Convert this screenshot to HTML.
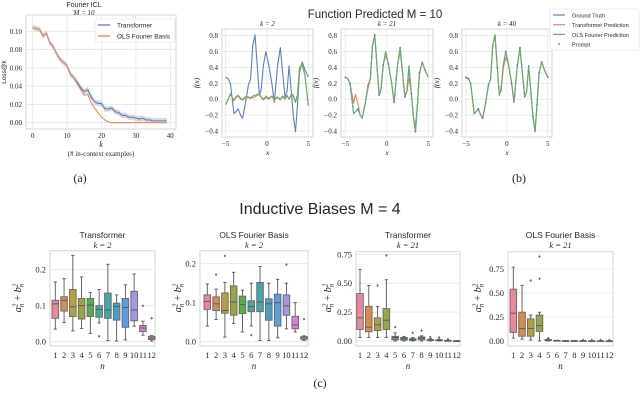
<!DOCTYPE html>
<html><head><meta charset="utf-8"><style>
html,body{margin:0;padding:0;background:#fff;}
svg{display:block;font-family:"Liberation Serif",serif;}
.s{font-family:"Liberation Sans",sans-serif;}
</style></head><body>
<svg id="fig" width="640" height="402" viewBox="0 0 640 402" xmlns="http://www.w3.org/2000/svg"></svg>
<script>
// ---------- DATA ----------
const lossK = [0,1,2,3,4,5,6,7,8,9,10,11,12,13,14,15,16,17,18,19,20,21,22,23,24,25,26,27,28,29,30,31,32,33,34,35,36,37,38,39];
const lossTransformer = [0.104,0.103,0.102,0.095,0.098,0.087,0.083,0.075,0.069,0.066,0.062,0.053,0.049,0.044,0.038,0.034,0.036,0.028,0.023,0.021,0.021,0.015,0.015,0.016,0.012,0.011,0.008,0.008,0.006,0.006,0.005,0.004,0.005,0.003,0.003,0.002,0.002,0.002,0.002,0.002];
const lossOLS = [0.104,0.103,0.102,0.095,0.098,0.087,0.083,0.075,0.069,0.066,0.062,0.053,0.049,0.042,0.036,0.030,0.031,0.022,0.016,0.011,0.006,0.003,0.001,0,0,0,0,0,0,0,0,0,0,0,0,0,0,0,0,0];
const lossXTicks = [0,10,20,30,40];
const lossYTicks = [0,0.02,0.04,0.06,0.08,0.10];

const fnX = [-5,-4.71,-4.43,-4.0,-3.78,-3.49,-3.2,-2.96,-2.6,-2.27,-1.98,-1.73,-1.45,-1.16,-0.92,-0.71,-0.43,-0.14,0.18,0.59,0.88,1.29,1.61,1.9,2.18,2.43,2.67,2.96,3.2,3.45,3.69,3.94,4.27,4.59,5.0];
const truthY = [0.275,0.26,0.2,-0.18,-0.16,-0.12,-0.2,-0.24,-0.05,0.17,0.26,0.67,0.81,0.39,0.05,0.12,0.43,0.6,0.45,0.2,-0.04,0.43,0.65,0.33,0.03,0.1,0.42,0.07,-0.22,-0.41,-0.07,0.33,0.47,0.37,0.28];
const k2Transformer = [-0.07,0.0,0.06,-0.02,0.02,0.04,0.0,-0.01,0.02,0.02,0.01,0.02,0.03,0.05,0.06,0.02,-0.01,0.02,0.0,0.03,-0.01,0.02,-0.01,0.03,0.0,0.04,0.0,0.05,0.03,-0.03,0.06,0.38,0.43,0.3,-0.08];
const k2OLS = [-0.07,0.0,0.07,-0.01,0.03,0.05,0.01,0.0,0.03,0.03,0.02,0.04,0.05,0.06,0.07,0.03,0.0,0.04,0.01,0.04,0.0,0.03,0.0,0.04,0.01,0.05,0.0,0.07,0.05,-0.04,0.05,0.4,0.44,0.3,-0.08];
const k21Transformer = [0.275,0.26,0.2,-0.05,0.06,-0.05,-0.2,-0.24,-0.05,0.13,0.26,0.67,0.81,0.39,0.05,0.12,0.43,0.55,0.45,0.2,-0.04,0.43,0.6,0.33,0.03,0.1,0.27,0.07,-0.22,-0.33,-0.07,0.33,0.47,0.37,0.28];
const k21OLS = truthY.slice();
const k40Transformer = [0.275,0.26,0.2,-0.18,-0.16,-0.12,-0.2,-0.24,-0.05,0.17,0.26,0.67,0.81,0.39,0.05,0.12,0.4,0.52,0.45,0.2,-0.04,0.43,0.63,0.33,0.03,0.1,0.42,0.07,-0.22,-0.41,-0.07,0.33,0.47,0.37,0.28];
const k40OLS = truthY.slice();
const prompt21 = [0,2,5,9,12,14,16,18,20,22,24,27,29,31,33];
const prompt40 = [0,1,3,5,7,9,11,13,15,17,19,21,22,24,26,27,28,30,31,32,34];
const fnXTicks = [-5,0,5];
const fnYTicks = [-0.4,-0.2,0,0.2,0.4,0.6,0.8];

const boxN = [1,2,3,4,5,6,7,8,9,10,11,12];
const boxTk2 = [[0.035,0.065,0.105,0.115,0.166],[0.053,0.085,0.115,0.125,0.175],[0.03,0.07,0.097,0.145,0.24],[0.037,0.063,0.1,0.12,0.18],[0.023,0.07,0.102,0.12,0.137],[0.052,0.068,0.09,0.1,0.145],[0.003,0.065,0.088,0.135,0.215],[0.002,0.06,0.098,0.107,0.13],[0.005,0.04,0.095,0.12,0.158],[0.043,0.058,0.088,0.14,0.188],[0.018,0.028,0.038,0.045,0.057],[0.002,0.006,0.01,0.015,0.017]];
const outTk2 = [[],[],[],[],[],[0.015],[],[],[],[],[0.1],[0.065]];
const boxOk2 = [[0.04,0.083,0.103,0.12,0.148],[0.057,0.08,0.097,0.115,0.135],[0.012,0.073,0.08,0.125,0.152],[0.047,0.068,0.102,0.143,0.178],[0.025,0.072,0.095,0.117,0.132],[0.04,0.077,0.09,0.105,0.15],[0.003,0.077,0.102,0.152,0.193],[0.003,0.055,0.097,0.11,0.15],[0.01,0.04,0.1,0.122,0.16],[0.033,0.068,0.092,0.12,0.15],[0.025,0.033,0.043,0.065,0.1],[0.003,0.006,0.01,0.013,0.015]];
const outOk2 = [[],[0.172],[0.22],[],[],[0.017],[],[],[],[0.198],[],[0.058]];
const boxTk21 = [[0.03,0.1,0.2,0.41,0.62],[0.03,0.08,0.12,0.3,0.48],[0.03,0.09,0.14,0.2,0.3],[0.03,0.1,0.18,0.28,0.53],[0,0.01,0.03,0.04,0.07],[0,0.008,0.02,0.03,0.04],[0,0.005,0.015,0.02,0.03],[0,0.01,0.025,0.035,0.045],[0,0.004,0.008,0.012,0.02],[0,0.003,0.006,0.01,0.015],[0,0.001,0.003,0.005,0.008],[0,0.0005,0.001,0.002,0.003]];
const outTk21 = [[],[],[0.48],[0.74],[0.12],[],[0.07],[0.09],[0.035],[0.03],[0.015],[]];
const boxOk21 = [[0.03,0.09,0.29,0.54,0.77],[0.02,0.05,0.13,0.3,0.58],[0.01,0.05,0.13,0.23,0.27],[0,0.1,0.16,0.27,0.3],[0,0.005,0.01,0.015,0.02],[0,0.002,0.004,0.006,0.008],[0,0.001,0.002,0.003,0.005],[0,0.001,0.002,0.003,0.004],[0,0.001,0.002,0.003,0.004],[0,0.001,0.001,0.002,0.003],[0,0.001,0.001,0.002,0.003],[0,0.001,0.001,0.002,0.003]];
const outOk21 = [[],[],[0.63],[0.65,0.88],[0.03],[],[],[],[0.01],[0.01],[0.01],[0.01]];
const boxColors = ['#e8899a','#d98b4a','#b59f44','#9aa443','#5aab4f','#4aa890','#44a6a8','#4aa0bf','#5a9de0','#a695e0','#d67fe0','#e27fbf'];

// ---------- HELPERS ----------
const NS='http://www.w3.org/2000/svg';
const svg=document.getElementById('fig');
function el(tag, attrs, name, parent){
  const e=document.createElementNS(NS,tag);
  for(const k in attrs) e.setAttribute(k,attrs[k]);
  
  
  (parent||svg).appendChild(e); return e;
}
function txt(x,y,s,size,name,anchor,cls,extra){
  const a={x:x,y:y,'font-size':size,'text-anchor':anchor||'middle',fill:'#262626'};
  if(cls) a['class']=cls;
  if(extra) for(const k in extra) a[k]=extra[k];
  const t=el('text',a,name); t.textContent=s; return t;
}
function lin(d0,d1,r0,r1){return v=>r0+(v-d0)/(d1-d0)*(r1-r0);}
function frame(x0,y0,x1,y1,name){
  el('rect',{x:x0,y:y0,width:x1-x0,height:y1-y0,fill:'#fff',stroke:'#d6d6d6','stroke-width':1},name);
}
function poly(xs,ys,X,Y,color,w,name){
  let d='';
  for(let i=0;i<xs.length;i++) d+=(i?'L':'M')+X(xs[i]).toFixed(2)+','+Y(ys[i]).toFixed(2);
  el('path',{d:d,fill:'none',stroke:color,'stroke-width':w,'stroke-linejoin':'round'},name);
}
const BLUE='#5b7fc0', ORANGE='#e8895a', GREEN='#5fae6e';

// ---------- PANEL (a) ----------
(function(){
  const X=lin(0,10,32.7,67.1), Y=lin(0,0.10,122.7,31.3);
  frame(26,15,176,129,'loss-plot-area');
  lossYTicks.forEach(v=>{
    el('line',{x1:26,x2:176,y1:Y(v),y2:Y(v),stroke:'#e6e6e6','stroke-width':0.8},'loss-y-grid');
    txt(22,Y(v)+2.5,v.toFixed(2),7,'loss-y-tick','end');
  });
  lossXTicks.forEach(v=>{
    el('line',{x1:X(v),x2:X(v),y1:15,y2:129,stroke:'#e6e6e6','stroke-width':0.8},'loss-x-grid');
    txt(X(v),138,String(v),7,'loss-x-tick');
  });
  let d='';
  lossK.forEach((k,i)=>{d+=(i?'L':'M')+X(k)+','+Y(lossTransformer[i]+0.003);});
  for(let i=lossK.length-1;i>=0;i--) d+='L'+X(lossK[i])+','+Y(Math.max(lossTransformer[i]-0.003,0));
  el('path',{d:d+'Z',fill:'#c8c8c8',opacity:0.7},'transformer-confidence-band');
  poly(lossK,lossTransformer,X,Y,BLUE,1.1,'transformer-loss-line');
  poly(lossK,lossOLS,X,Y,ORANGE,1.1,'ols-loss-line');
  txt(84,7,'Fourier ICL',7,'loss-title','middle','s');
  txt(84,15,'M = 10',7,'loss-subtitle','middle',null,{'font-style':'italic'});
  txt(101,147,'k',8,'loss-x-label','middle',null,{'font-style':'italic'});
  txt(101,156,'(# in-context examples)',7,'loss-x-label-sub');
  txt(6,72,'Loss@k',6.5,'loss-y-label','middle','s',{transform:'rotate(-90 6 72)'});
  el('rect',{x:95,y:19,width:80,height:23,fill:'#fff',stroke:'#ddd','stroke-width':0.6,rx:2},'loss-legend');
  el('line',{x1:98,x2:110,y1:25,y2:25,stroke:BLUE,'stroke-width':1.3},'legend-transformer-swatch');
  txt(117,27.5,'Transformer',6.5,'legend-transformer','start','s');
  el('line',{x1:98,x2:110,y1:36,y2:36,stroke:ORANGE,'stroke-width':1.3},'legend-ols-swatch');
  txt(117,38.5,'OLS Fourier Basis',6.5,'legend-ols','start','s');
  txt(80,182,'(a)',12,'panel-a-label');
})();

// ---------- PANEL (b) ----------
const subs=[
  {fx0:222,fx1:313,x5:225.7,x_5:308.3,k:'2',tr:k2Transformer,ols:k2OLS,pr:[]},
  {fx0:341,fx1:433,x5:345.3,x_5:428.3,k:'21',tr:k21Transformer,ols:k21OLS,pr:prompt21},
  {fx0:462,fx1:552,x5:466,x_5:547.7,k:'40',tr:k40Transformer,ols:k40OLS,pr:prompt40}
];
subs.forEach((s,si)=>{
  const X=lin(-5,5,s.x5,s.x_5), Y=lin(-0.4,0.8,131,35.7);
  frame(s.fx0,29,s.fx1,137,'function-plot-area-k'+s.k);
  fnYTicks.forEach(v=>{
    el('line',{x1:s.fx0,x2:s.fx1,y1:Y(v),y2:Y(v),stroke:'#e6e6e6','stroke-width':0.8},'function-y-grid');
    txt(s.fx0-4,Y(v)+2.5,(v<0?'\u2212':'')+Math.abs(v).toFixed(1),7,'function-y-tick','end');
  });
  fnXTicks.forEach(v=>{
    el('line',{x1:X(v),x2:X(v),y1:29,y2:137,stroke:'#e6e6e6','stroke-width':0.8},'function-x-grid');
    txt(X(v),146,(v<0?'\u2212':'')+Math.abs(v),7,'function-x-tick');
  });
  poly(fnX,truthY,X,Y,BLUE,1.1,'ground-truth-line');
  poly(fnX,s.tr,X,Y,ORANGE,1.1,'transformer-prediction-line');
  poly(fnX,s.ols,X,Y,GREEN,1.1,'ols-prediction-line');
  s.pr.forEach(i=>{
    el('circle',{cx:X(fnX[i]),cy:Y(truthY[i]),r:0.9,fill:BLUE},'prompt-point');
  });
  txt((s.fx0+s.fx1)/2,26,'k = '+s.k,7,'function-subplot-title','middle',null,{'font-style':'italic'});
  txt((s.fx0+s.fx1)/2,155,'x',7.5,'function-x-label','middle',null,{'font-style':'italic'});
  const lx=s.fx0-23;
  txt(lx,83,'f(x)',7.5,'function-y-label','middle',null,{'font-style':'italic',transform:'rotate(-90 '+lx+' 83)'});
});
txt(375,18,'Function Predicted M = 10',11.5,'function-predicted-title','middle','s');
el('rect',{x:550,y:9,width:89,height:41,fill:'#fff',stroke:'#ddd','stroke-width':0.6,rx:2},'function-legend');
[['Ground Truth',BLUE],['Transformer Prediction',ORANGE],['OLS Fourier Prediction',GREEN]].forEach((e,i)=>{
  el('line',{x1:553,x2:565,y1:15+i*9.7,y2:15+i*9.7,stroke:e[1],'stroke-width':1.2},'legend-swatch');
  txt(572,17.5+i*9.7,e[0],5.6,'legend-entry','start','s');
});
el('circle',{cx:559,cy:44,r:0.9,fill:BLUE},'legend-prompt-swatch');
txt(572,46.5,'Prompt',5.6,'legend-entry','start','s');
txt(519,182,'(b)',12,'panel-b-label');

// ---------- PANEL (c) ----------
txt(320,214,'Inductive Biases M = 4',16,'inductive-biases-title','middle','s');
const boxPanels=[
  {fx0:50,fx1:155,top:250.7,x1:55.3,x12:151.7,y0:341.7,yv:0.1,yp:305.7,ticks:[0,0.1,0.2],dec:1,data:boxTk2,out:outTk2,title:'Transformer',k:'2',yl:21},
  {fx0:200,fx1:308,top:250.7,x1:207.3,x12:304,y0:341.7,yv:0.1,yp:302.7,ticks:[0,0.1,0.2],dec:1,data:boxOk2,out:outOk2,title:'OLS Fourier Basis',k:'2',yl:181},
  {fx0:356,fx1:460,top:251.7,x1:360,x12:456.7,y0:341,yv:0.25,yp:312.1,ticks:[0,0.25,0.5,0.75],dec:2,data:boxTk21,out:outTk21,title:'Transformer',k:'21',yl:331},
  {fx0:508,fx1:613,top:251.7,x1:513.3,x12:609.3,y0:341,yv:0.25,yp:317,ticks:[0,0.25,0.5,0.75],dec:2,data:boxOk21,out:outOk21,title:'OLS Fourier Basis',k:'21',yl:481}
];
boxPanels.forEach(p=>{
  const X=lin(1,12,p.x1,p.x12), Y=lin(0,p.yv,p.y0,p.yp);
  frame(p.fx0,p.top,p.fx1,346,'boxplot-area');
  p.ticks.forEach(v=>{
    el('line',{x1:p.fx0,x2:p.fx1,y1:Y(v),y2:Y(v),stroke:'#e6e6e6','stroke-width':0.8},'boxplot-y-grid');
    txt(p.fx0-4,Y(v)+3,v.toFixed(p.dec),8.5,'boxplot-y-tick','end');
  });
  const bw=6.6;
  boxN.forEach((n,i)=>{
    const [lo,q1,md,q3,hi]=p.data[i], cx=X(n);
    el('line',{x1:cx,x2:cx,y1:Y(q3),y2:Y(hi),stroke:'#555','stroke-width':0.9},'whisker-upper');
    el('line',{x1:cx,x2:cx,y1:Y(q1),y2:Y(lo),stroke:'#555','stroke-width':0.9},'whisker-lower');
    el('line',{x1:cx-bw/4,x2:cx+bw/4,y1:Y(hi),y2:Y(hi),stroke:'#555','stroke-width':0.9},'whisker-cap');
    el('line',{x1:cx-bw/4,x2:cx+bw/4,y1:Y(lo),y2:Y(lo),stroke:'#555','stroke-width':0.9},'whisker-cap');
    el('rect',{x:cx-bw/2,y:Y(q3),width:bw,height:Math.max(Y(q1)-Y(q3),0.8),fill:boxColors[i],stroke:'#666','stroke-width':0.9},'box-n'+n);
    el('line',{x1:cx-bw/2,x2:cx+bw/2,y1:Y(md),y2:Y(md),stroke:'#555','stroke-width':0.9},'box-median');
    p.out[i].forEach(o=>{
      const oy=Y(o);
      el('path',{d:`M${cx},${oy-1.5}L${cx+1.2},${oy}L${cx},${oy+1.5}L${cx-1.2},${oy}Z`,fill:'#666'},'outlier');
    });
    txt(cx,358,String(n),8.5,'boxplot-x-tick');
  });
  const cx=(p.fx0+p.fx1)/2;
  txt(cx,238,p.title,8.5,'boxplot-title','middle','s');
  txt(cx,248,'k = '+p.k,8.5,'boxplot-subtitle','middle',null,{'font-style':'italic'});
  txt(cx,369,'n',9,'boxplot-x-label','middle',null,{'font-style':'italic'});
  const yl=el('text',{x:p.yl,y:298,'font-size':10.5,'text-anchor':'middle',fill:'#262626','font-style':'italic',transform:'rotate(-90 '+p.yl+' 298)'},'boxplot-y-label');
  yl.innerHTML='a<tspan font-size="7" dy="-3.5">2</tspan><tspan font-size="7" dx="-3.5" dy="6">n</tspan><tspan dy="-2.5" font-style="normal"> + </tspan>b<tspan font-size="7" dy="-3.5">2</tspan><tspan font-size="7" dx="-3.5" dy="6">n</tspan>';
});
txt(320,387,'(c)',12,'panel-c-label');
</script>
</body></html>
